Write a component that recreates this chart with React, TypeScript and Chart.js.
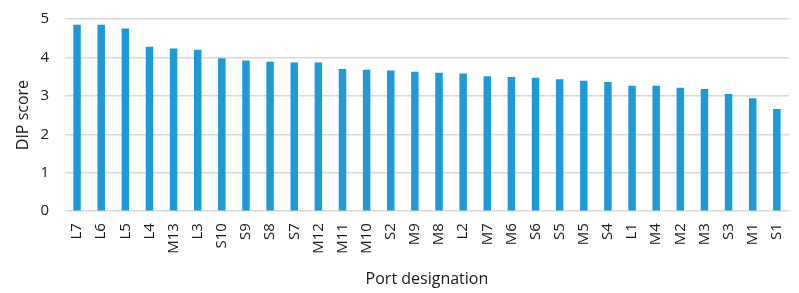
import React, { useEffect, useRef } from "react";
import { Chart, registerables } from "chart.js";

Chart.register(...registerables);

const ports = ["L7","L6","L5","L4","M13","L3","S10","S9","S8","S7","M12","M11","M10","S2","M9","M8","L2","M7","M6","S6","S5","M5","S4","L1","M4","M2","M3","S3","M1","S1"];
const dipScores = [4.85,4.85,4.75,4.28,4.23,4.2,3.98,3.92,3.89,3.87,3.87,3.7,3.68,3.66,3.63,3.6,3.58,3.51,3.49,3.47,3.43,3.39,3.36,3.26,3.26,3.21,3.18,3.05,2.94,2.66];
const yTitle = "DIP score";
const xTitle = "Port designation";

export default function App() {
  const ref = useRef<HTMLCanvasElement>(null);
  useEffect(() => {
    if (!ref.current) return;
    const font = "'Open Sans', 'Liberation Sans', sans-serif";
    const chart = new Chart(ref.current, {
      type: "bar",
      data: {
        labels: ports,
        datasets: [{ data: dipScores, backgroundColor: "#1f9ad6", barPercentage: 0.31, categoryPercentage: 1 }],
      },
      options: {
        animation: false,
        responsive: true,
        maintainAspectRatio: false,
        layout: { padding: { top: 0, right: 10, left: 14, bottom: 4 } },
        plugins: { legend: { display: false }, tooltip: { enabled: false } },
        scales: {
          x: {
            grid: { display: false },
            border: { display: false },
            ticks: { color: "#1a1a1a", font: { family: font, size: 15 }, maxRotation: 90, minRotation: 90, autoSkip: false, padding: 4 },
            title: { display: true, text: xTitle, color: "#1a1a1a", font: { family: font, size: 16 }, padding: { top: 12, bottom: 0 } },
          },
          y: {
            min: 0, max: 5,
            afterFit: (s: any) => { s.width = 51; s.paddingTop = 19; },
            grid: { color: "#d9d9d9", lineWidth: 1.5, drawTicks: false },
            border: { display: false },
            ticks: { stepSize: 1, color: "#1a1a1a", font: { family: font, size: 15 }, padding: 16 },
            title: { display: true, text: yTitle, color: "#1a1a1a", font: { family: font, size: 16 }, padding: { top: 0, bottom: 8 } },
          },
        },
      },
    });
    return () => chart.destroy();
  }, []);
  return (
    <div style={{ position: "fixed", left: 0, top: 0, width: 799, height: 293, background: "#fff" }}>
      <canvas ref={ref} />
    </div>
  );
}
